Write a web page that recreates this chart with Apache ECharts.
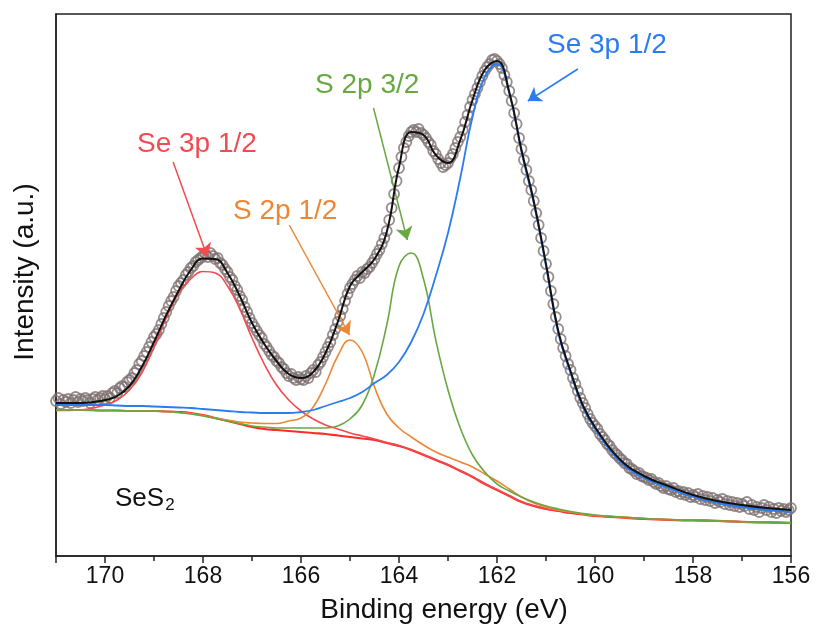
<!DOCTYPE html>
<html>
<head>
<meta charset="utf-8">
<title>SeS2 XPS</title>
<script src="https://cdn.jsdelivr.net/npm/echarts@6/dist/echarts.min.js"></script>
<style>
  html, body { margin: 0; padding: 0; background: #fff; }
  #main { width: 820px; height: 637px; }
</style>
</head>
<body>
<div id="main"></div>
<script>
// measured spectrum: 171.00 -> 156.00 eV, 0.05 eV per point
var scanStart = 171, scanStep = 0.05;
var scanI = [
  155, 158, 152, 156, 154, 157, 153, 156, 159, 154, 157, 155, 158, 156, 153, 157, 159, 156, 158, 160, 157,
  160, 158, 163, 165, 163, 168, 170, 169, 174, 176,
  178, 183, 186, 192, 195, 200, 204, 209, 214, 219,
  222, 226, 232, 238, 244, 250, 255, 259, 265, 270,
  273, 276, 281, 284, 288, 290, 294, 296, 298, 300,
  302, 299, 303, 300, 297, 298, 293, 291, 287, 284,
  279, 276, 270, 266, 260, 256, 249, 244, 238, 233,
  229, 225, 221, 218, 212, 209, 205, 201, 199, 195,
  193, 189, 187, 183, 180, 182, 178, 176, 179, 177,
  176, 180, 178, 183, 186, 184, 191, 194, 199, 204,
  209, 214, 221, 227, 234, 240, 247, 255, 262, 268,
  272, 276, 280, 278, 284, 283, 287, 289, 293, 297,
  302, 306, 312, 318, 325, 336, 348, 362, 375, 388,
  399, 408, 414, 420, 424, 426, 424, 427, 423, 421,
  418, 414, 411, 405, 402, 397, 393, 389, 391, 393,
  398, 402, 408, 414, 419, 426, 434, 441, 449, 456,
  462, 468, 474, 480, 485, 489, 492, 496, 497, 495,
  492, 488, 481, 474, 465, 455, 443, 432, 418, 407,
  396, 386, 375, 366, 355, 343, 331, 318, 305, 292,
  279, 265, 252, 239, 227, 217, 208, 200, 192, 186,
  178, 172, 165, 158, 153, 148, 142, 137, 133, 130,
  127, 122, 119, 116, 112, 110, 106, 103, 101, 98,
  96, 93, 92, 88, 87, 85, 82, 83, 80, 79,
  78, 76, 77, 74, 72, 73, 70, 68, 70, 67,
  66, 68, 64, 65, 62, 64, 61, 63, 59, 61,
  59, 62, 57, 60, 56, 59, 55, 58, 53, 56,
  54, 57, 52, 55, 51, 54, 50, 53, 49, 52,
  50, 54, 47, 51, 46, 49, 44, 48, 51, 46,
  49, 44, 47, 43, 48, 45, 47, 44, 46, 48
];

// fitted curves, sampled at fitE
var fitE = [171, 170.5, 170, 169.75, 169.5, 169.25, 169, 168.75, 168.5, 168.25, 168, 167.75, 167.5, 167.25, 167,
  166.75, 166.5, 166.25, 166, 165.75, 165.5, 165.25, 165, 164.75, 164.5, 164.25, 164, 163.75, 163.5, 163.25, 163,
  162.75, 162.5, 162.25, 162, 161.75, 161.5, 161.25, 161, 160.75, 160.5, 160.25, 160, 159.5, 159, 158.5, 158,
  157.5, 157, 156.5, 156];
var bgI = [146, 146, 145.5, 145.5, 145, 145, 145, 144.5, 144, 143, 141, 138, 135, 132, 129,
  127, 126, 125, 124, 123, 122, 120.5, 119, 117.5, 116, 113, 110, 106, 101, 96, 91,
  85, 79, 72, 66, 60, 54, 50, 47, 45, 43, 41.5, 40, 38.5, 37, 36, 35.5,
  35, 34, 33.5, 33];
var se168I = [145.5, 146, 151, 156, 166, 183, 209, 238, 263, 277, 284.5, 283, 270, 247, 218,
  192, 171, 156, 145, 137, 131, 127, 123, 120, 117, 113.5, 110.5, 106.5, 101.5, 96.5, 91.5,
  85.5, 79.5, 72.5, 66.5, 60.5, 54.5, 50.5, 47.5, 45.5, 43.5, 42, 40.5, 39, 37.5, 36.5, 36,
  35.5, 34.5, 34, 33.5];
var s2p12I = [146, 146, 145.5, 145.5, 145, 145, 145, 144.5, 143.5, 142.5, 140.5, 138, 136, 134, 133,
  132.5, 132.5, 135, 138, 149, 172, 200, 216, 204, 169, 142, 128, 119, 111, 104, 99,
  94, 89, 82, 75, 67, 59, 53, 49, 46, 44, 42, 40.5, 39, 37.5, 36.5, 35.7,
  35, 34.2, 33.6, 33];
var s2p32I = [146, 146, 145.5, 145.5, 145, 145, 145, 144.5, 143.5, 142, 140, 137.5, 135, 132.5, 130,
  129, 128, 128, 128, 128, 128, 130, 137, 151, 182, 231, 290, 303, 277, 216, 166,
  128, 101, 84, 72, 65, 59, 54, 50, 47, 44.5, 42.5, 41, 39, 37.5, 36.5, 35.7,
  35, 34.2, 33.6, 33];
var se162I = [151, 151, 151, 150.5, 150, 150, 149.5, 149, 148.5, 148, 147, 146, 145, 144, 143.5,
  143, 143, 143, 144, 146, 150, 154, 158, 164, 173, 181, 194, 214, 242, 280, 323,
  378, 439, 479, 492, 463, 404, 353, 290, 223, 183, 149, 127, 95, 78, 68, 59,
  53, 49, 46, 44];
var fitI = [153, 153, 156, 160, 170, 189, 214, 241, 265, 286, 297.5, 297, 283, 260, 233,
  212, 195, 182, 178, 184, 203, 234, 270, 284, 297, 324, 389, 424, 421, 401, 393,
  416, 456, 486, 495, 464, 406, 355, 292, 225, 185, 151, 129, 97, 80, 70, 61,
  55, 51, 48, 46];

// arrow annotations [eV, intensity] start -> tip
var arrowSe168 = [[168.61, 394], [167.91, 299]];
var arrowS12 = [[166.24, 331], [165.01, 221]];
var arrowS32 = [[164.52, 448], [163.83, 316]];
var arrowSe162 = [[160.35, 487], [161.37, 455]];

var FONT = "'Liberation Sans', Arial, sans-serif";
var TICKFONT = "'Liberation Sans Narrow', 'Arial Narrow', 'Liberation Sans', Arial, sans-serif";
var chart = echarts.init(document.getElementById('main'));

function pairs(ys) {
  return fitE.map(function (e, i) { return [e, ys[i]]; });
}

function arrow(color, a) {
  return {
    silent: true,
    animation: false,
    symbol: ['none', 'arrow'],
    symbolSize: 13,
    lineStyle: { color: color, width: 1.5, type: 'solid' },
    label: { show: false },
    emphasis: { disabled: true },
    data: [[{ coord: a[0] }, { coord: a[1] }]]
  };
}

function curve(name, ys, color, width, z, mark) {
  var s = {
    name: name,
    type: 'line',
    data: pairs(ys),
    smooth: 0.45,
    showSymbol: false,
    z: z,
    lineStyle: { color: color, width: width },
    itemStyle: { color: color },
    emphasis: { disabled: true }
  };
  if (mark) s.markLine = mark;
  return s;
}

var rawData = scanI.map(function (v, i) {
  return [+(scanStart - i * scanStep).toFixed(2), v];
});

var option = {
  backgroundColor: '#fff',
  animation: false,
  grid: { left: 56, right: 29, top: 14, bottom: 81, show: true, borderColor: '#222', borderWidth: 1.5 },
  xAxis: {
    type: 'value',
    min: 156,
    max: 171,
    interval: 2,
    inverse: true,
    axisLine: { lineStyle: { color: '#222', width: 1.5 } },
    axisTick: { length: 7, lineStyle: { color: '#222', width: 1.5 } },
    minorTick: { show: true, splitNumber: 2, length: 5, lineStyle: { color: '#222', width: 1.5 } },
    splitLine: { show: false },
    axisLabel: {
      color: '#111', fontSize: 23, fontFamily: TICKFONT, margin: 9,
      formatter: function (v) { return v === 171 ? '' : v; }
    }
  },
  yAxis: {
    type: 'value',
    min: 0,
    max: 542,
    axisLine: { show: true, lineStyle: { color: '#222', width: 1.5 } },
    axisTick: { show: false },
    axisLabel: { show: false },
    splitLine: { show: false }
  },
  series: [
    {
      name: 'Raw',
      type: 'scatter',
      data: rawData,
      symbol: 'circle',
      symbolSize: 10,
      z: 1,
      itemStyle: { color: 'rgba(255,255,255,0)', borderColor: '#807272', borderWidth: 1.8 },
      emphasis: { disabled: true }
    },
    curve('Background', bgI, '#ff2b2b', 2.2, 3),
    curve('Se 3p 1/2 (168)', se168I, '#f24b4f', 1.6, 4, arrow('#f24b4f', arrowSe168)),
    curve('S 2p 1/2', s2p12I, '#ee8733', 1.6, 4, arrow('#ee8733', arrowS12)),
    curve('S 2p 3/2', s2p32I, '#68a843', 1.6, 4, arrow('#68a843', arrowS32)),
    curve('Se 3p 1/2 (162)', se162I, '#2b7cf0', 1.8, 5, arrow('#2b7cf0', arrowSe162)),
    curve('Fit', fitI, '#111', 2, 6)
  ],
  graphic: [
    { type: 'text', x: 444, y: 610, style: { text: 'Binding energy (eV)', fill: '#111', font: '28px ' + FONT, align: 'center', verticalAlign: 'middle' } },
    { type: 'text', x: 25, y: 272, rotation: Math.PI / 2, style: { text: 'Intensity (a.u.)', fill: '#111', font: '28px ' + FONT, align: 'center', verticalAlign: 'middle' } },
    { type: 'text', x: 137, y: 144, style: { text: 'Se 3p 1/2', fill: '#f24b4f', font: '28px ' + FONT, verticalAlign: 'middle' } },
    { type: 'text', x: 233, y: 211, style: { text: 'S 2p 1/2', fill: '#ee8733', font: '28px ' + FONT, verticalAlign: 'middle' } },
    { type: 'text', x: 315, y: 85, style: { text: 'S 2p 3/2', fill: '#68a843', font: '28px ' + FONT, verticalAlign: 'middle' } },
    { type: 'text', x: 547, y: 45, style: { text: 'Se 3p 1/2', fill: '#2b7cf0', font: '28px ' + FONT, verticalAlign: 'middle' } },
    {
      type: 'text', x: 115, y: 484,
      style: {
        text: '{a|SeS}{b|2}',
        rich: {
          a: { fontSize: 26, fontFamily: FONT, fill: '#111', color: '#111' },
          b: { fontSize: 17, fontFamily: FONT, fill: '#111', color: '#111', padding: [13, 0, 0, 1] }
        }
      }
    }
  ]
};

chart.setOption(option);
</script>
</body>
</html>
